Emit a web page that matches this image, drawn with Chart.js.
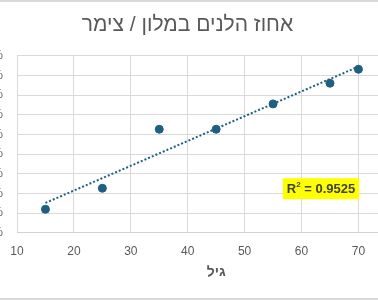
<!DOCTYPE html>
<html><head><meta charset="utf-8">
<script src="https://cdn.jsdelivr.net/npm/chart.js@4"></script>
<style>
html,body{margin:0;padding:0;background:#fff;}
body{width:378px;height:300px;overflow:hidden;position:relative;}
#c{position:absolute;left:-40px;top:0;}
.frame{position:absolute;left:0;width:378px;height:2px;background:#d9d9d9;}
</style></head>
<body>
<canvas id="c" width="474" height="300" style="width:474px;height:300px"></canvas>
<div class="frame" style="top:0"></div>
<div class="frame" style="top:298px"></div>
<script>
const chartTitle = 'אחוז הלנים במלון / צימר';
const xTitle = 'גיל';
const ages = [15, 25, 35, 45, 55, 65, 70];
const pctValues = [11.9, 22.6, 52.6, 52.6, 65.5, 76.0, 83.1];
const xTicks = [10, 20, 30, 40, 50, 60, 70, 80];
const yTicks = [0, 10, 20, 30, 40, 50, 60, 70, 80, 90];
const r2Label = '0.9525';

// least-squares trendline (like Excel's linear trendline) over the data range
const n = ages.length;
const mx = ages.reduce((a,b)=>a+b,0)/n;
const my = pctValues.reduce((a,b)=>a+b,0)/n;
let sxy=0,sxx=0;
for(let i=0;i<n;i++){sxy+=(ages[i]-mx)*(pctValues[i]-my);sxx+=(ages[i]-mx)**2;}
const slope=sxy/sxx, icpt=my-slope*mx;
const xMin=Math.min(...ages), xMax=Math.max(...ages);
const trend=[{x:xMin,y:icpt+slope*xMin},{x:xMax,y:icpt+slope*xMax}];

const COLOR='#1f5f82';
const FONT='"Liberation Sans", Arial, "DejaVu Sans", sans-serif';

const textPlugin={
  id:'texts',
  afterDraw(chart){
    const ctx=chart.ctx, a=chart.chartArea;
    ctx.save();
    ctx.font='21px '+FONT;
    ctx.fillStyle='#595959';
    ctx.textAlign='center';
    ctx.textBaseline='middle';
    ctx.fillText(chartTitle, 227.5, 25);
    const cx=a.left+304, cy=a.top+133;
    ctx.font='bold 13px '+FONT;
    const w1=ctx.measureText('R').width;
    ctx.font='bold 8px '+FONT;
    const w2=ctx.measureText('2').width;
    ctx.font='bold 13px '+FONT;
    const rest=' = '+r2Label;
    const w3=ctx.measureText(rest).width;
    const tw=w1+w2+w3;
    const bw=tw+8, bh=21;
    ctx.fillStyle='#ffff00';
    ctx.fillRect(cx-bw/2, cy-bh/2, bw, bh);
    ctx.fillStyle='#404040';
    ctx.textAlign='left';
    let x=cx-tw/2;
    ctx.fillText('R',x,cy+1); x+=w1;
    ctx.font='bold 8px '+FONT;
    ctx.fillText('2',x,cy-4); x+=w2;
    ctx.font='bold 13px '+FONT;
    ctx.fillText(rest,x,cy+1);
    ctx.restore();
  }
};

new Chart(document.getElementById('c'),{
  type:'scatter',
  data:{datasets:[
    {label:'trend',type:'line',data:trend,borderColor:COLOR,borderWidth:2,borderDash:[2,2],pointRadius:0,fill:false},
    {label:'data',data:ages.map((a,i)=>({x:a,y:pctValues[i]})),backgroundColor:COLOR,borderColor:COLOR,pointRadius:4,pointHoverRadius:4}
  ]},
  options:{
    responsive:false,maintainAspectRatio:false,animation:false,devicePixelRatio:1,
    events:[],
    layout:{padding:{left:0,right:15,top:55.7,bottom:0}},
    plugins:{
      legend:{display:false},tooltip:{enabled:false},title:{display:false}
    },
    scales:{
      x:{type:'linear',min:xTicks[0],max:xTicks[xTicks.length-1],
        afterBuildTicks(s){s.ticks=xTicks.map(v=>({value:v}));},
        afterFit(s){s.height=67.3;},
        grid:{color:'#d9d9d9',drawTicks:false,lineWidth:1},
        border:{display:true,color:'#d0d0d0'},
        ticks:{color:'#595959',font:{family:FONT,size:12},padding:12,maxRotation:0},
        title:{display:true,text:xTitle,color:'#595959',font:{family:FONT,size:14,weight:'bold'},padding:{top:0,bottom:19.2}}
      },
      y:{min:yTicks[0],max:yTicks[yTicks.length-1],
        afterBuildTicks(s){s.ticks=yTicks.map(v=>({value:v}));},
        afterFit(s){s.width=57;},
        grid:{color:'#d9d9d9',drawTicks:false,lineWidth:1},
        border:{display:false},
        ticks:{color:'#595959',font:{family:FONT,size:12},padding:14,callback:v=>v+'%'}
      }
    }
  },
  plugins:[textPlugin]
});
</script>
</body></html>
